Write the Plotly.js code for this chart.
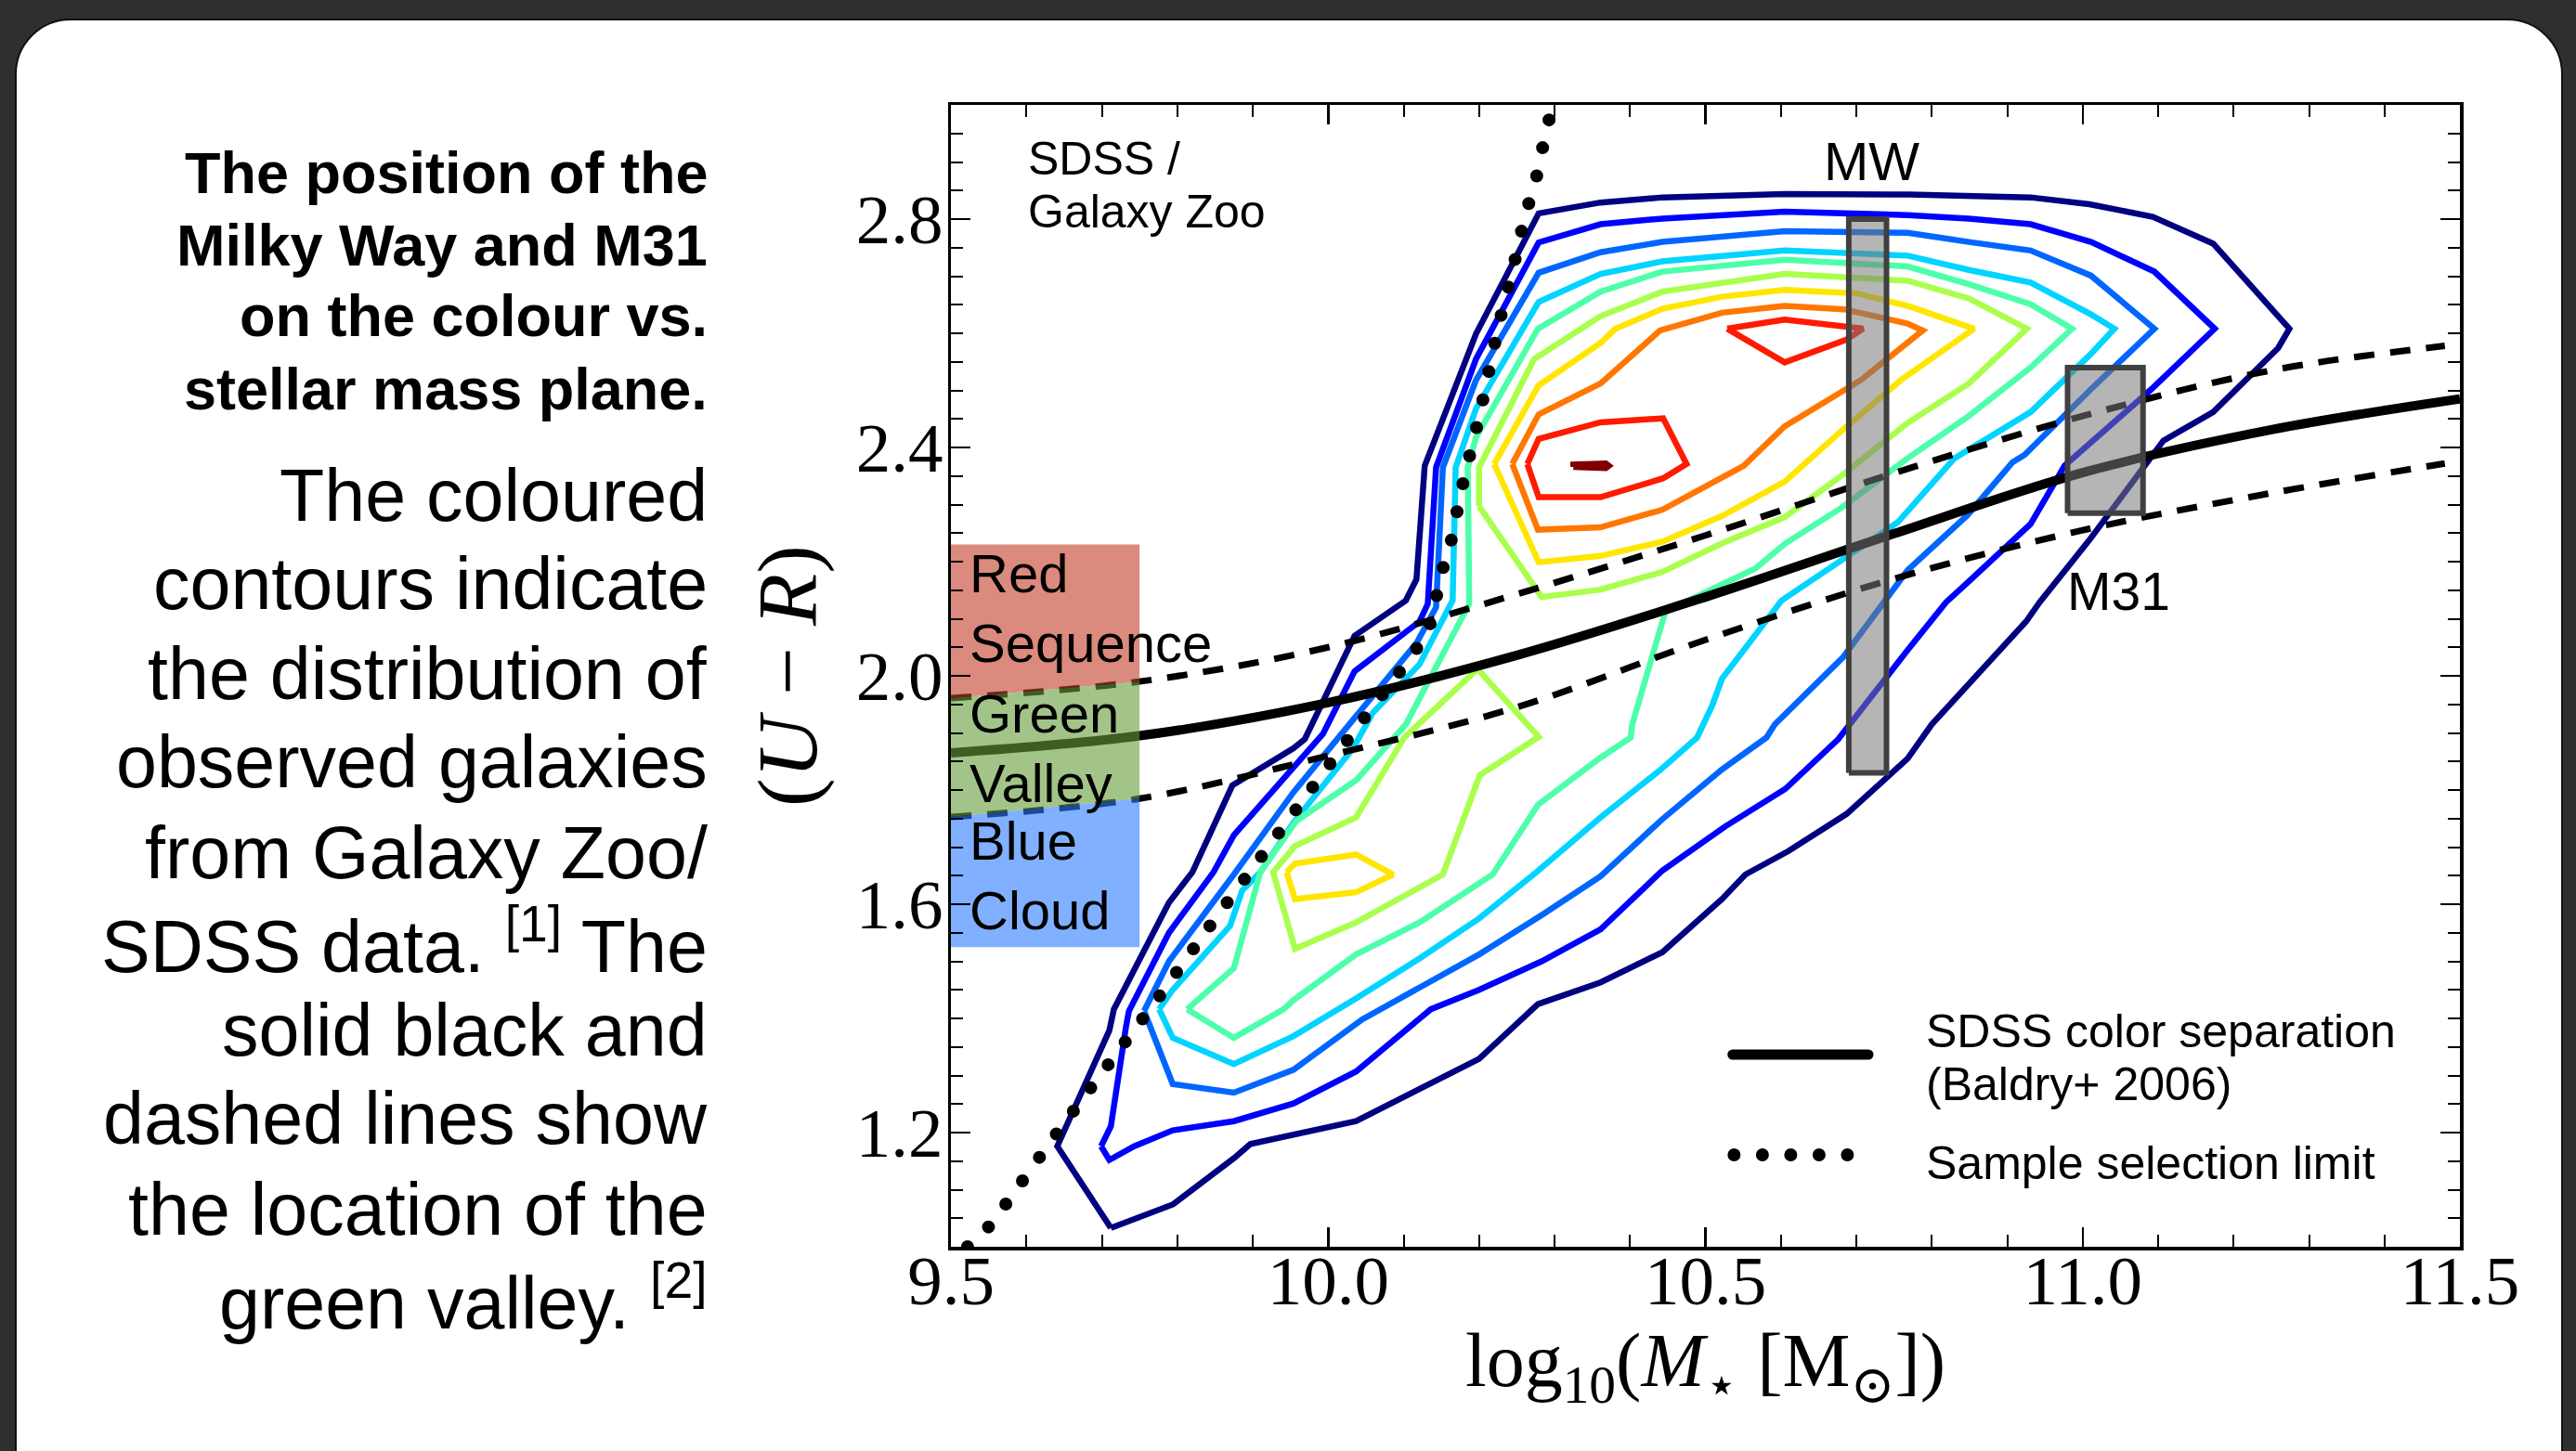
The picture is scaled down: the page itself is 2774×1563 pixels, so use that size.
<!DOCTYPE html>
<html><head><meta charset="utf-8">
<script src="https://cdn.plot.ly/plotly-3.0.1.min.js"></script>
<style>
html,body{margin:0;padding:0;width:2774px;height:1563px;overflow:hidden;background:#2f2f2f;}
#card{position:absolute;left:16px;top:20px;width:2740px;height:1700px;background:#fff;border:2px solid #111;border-radius:60px;}
#chart{position:absolute;left:0;top:0;width:2774px;height:1563px;}
.shapelayer path{stroke-linecap:round;}
.traceselLimit .js-line{stroke-linecap:round;}
</style></head>
<body><div id="card"></div><div id="chart"></div>
<script>
// ---------------- data ----------------
const massRange = [9.5, 11.5];
const colourRange = [1.0, 3.0];
const xTickVals = [9.5, 10.0, 10.5, 11.0, 11.5];
const xTickText = ['9.5', '10.0', '10.5', '11.0', '11.5'];
const yTickVals = [1.2, 1.6, 2.0, 2.4, 2.8];
const yTickText = ['1.2', '1.6', '2.0', '2.4', '2.8'];

const levelColors = ['#000080', '#0000ff', '#0066ff', '#00d4ff', '#4dffaa', '#aaff4d', '#ffe600', '#ff7700', '#ff1a00', '#800000'];

// contour level 1 (navy)
const c1X = [9.712, 9.641, 9.710, 9.716, 9.789, 9.820, 9.873, 9.954, 9.969, 9.991, 10.035, 10.103, 10.117, 10.128, 10.196, 10.279, 10.361, 10.443, 10.605, 10.770, 10.931, 11.009, 11.093, 11.173, 11.251, 11.274, 11.259, 11.173, 11.107, 11.009, 10.943, 10.925, 10.800, 10.768, 10.687, 10.610, 10.553, 10.522, 10.443, 10.361, 10.278, 10.200, 10.037, 9.897, 9.875, 9.794, 9.712];
const c1Y = [1.033, 1.176, 1.379, 1.416, 1.603, 1.656, 1.808, 1.873, 1.889, 1.948, 2.070, 2.132, 2.169, 2.368, 2.599, 2.810, 2.829, 2.838, 2.844, 2.843, 2.838, 2.826, 2.804, 2.757, 2.642, 2.608, 2.574, 2.462, 2.412, 2.238, 2.129, 2.095, 1.915, 1.855, 1.758, 1.693, 1.652, 1.609, 1.516, 1.463, 1.425, 1.329, 1.220, 1.180, 1.155, 1.074, 1.033];
// level 2 (blue)
const c2X = [9.699, 9.712, 9.732, 9.736, 9.789, 9.848, 9.875, 9.954, 9.993, 10.035, 10.121, 10.132, 10.143, 10.196, 10.279, 10.361, 10.443, 10.605, 10.768, 10.849, 10.931, 11.011, 11.095, 11.175, 11.091, 10.976, 10.931, 10.847, 10.819, 10.768, 10.676, 10.606, 10.526, 10.443, 10.361, 10.283, 10.200, 10.136, 10.037, 9.954, 9.875, 9.794, 9.743, 9.710, 9.699];
const c2Y = [1.176, 1.211, 1.385, 1.413, 1.550, 1.656, 1.721, 1.842, 1.898, 2.008, 2.095, 2.126, 2.365, 2.555, 2.759, 2.791, 2.801, 2.813, 2.807, 2.801, 2.791, 2.760, 2.708, 2.608, 2.502, 2.368, 2.266, 2.163, 2.129, 2.045, 1.889, 1.802, 1.736, 1.659, 1.556, 1.500, 1.450, 1.416, 1.307, 1.251, 1.220, 1.204, 1.176, 1.152, 1.176];
// level 3
const c3X = [9.756, 9.789, 9.875, 9.954, 10.033, 10.117, 10.143, 10.152, 10.196, 10.279, 10.361, 10.443, 10.605, 10.768, 10.849, 10.931, 11.011, 11.095, 11.011, 10.923, 10.907, 10.847, 10.768, 10.682, 10.592, 10.581, 10.522, 10.443, 10.361, 10.283, 10.200, 10.136, 10.045, 9.954, 9.875, 9.794, 9.756];
const c3Y = [1.413, 1.500, 1.652, 1.796, 1.923, 2.057, 2.120, 2.365, 2.518, 2.706, 2.742, 2.760, 2.779, 2.776, 2.760, 2.745, 2.701, 2.608, 2.502, 2.387, 2.374, 2.281, 2.185, 2.032, 1.915, 1.892, 1.836, 1.749, 1.649, 1.581, 1.512, 1.465, 1.398, 1.310, 1.270, 1.285, 1.413];
// level 4
const c4X = [9.776, 9.794, 9.870, 9.886, 9.910, 9.954, 10.033, 10.059, 10.121, 10.165, 10.169, 10.196, 10.279, 10.361, 10.443, 10.605, 10.768, 10.849, 10.931, 11.011, 11.042, 11.011, 10.931, 10.830, 10.755, 10.601, 10.522, 10.509, 10.489, 10.441, 10.361, 10.276, 10.200, 10.121, 10.037, 9.954, 9.875, 9.794, 9.776];
const c4Y = [1.416, 1.450, 1.562, 1.624, 1.656, 1.743, 1.873, 1.935, 2.020, 2.132, 2.365, 2.468, 2.655, 2.704, 2.726, 2.745, 2.736, 2.711, 2.689, 2.633, 2.608, 2.564, 2.462, 2.381, 2.269, 2.132, 1.995, 1.948, 1.892, 1.836, 1.752, 1.656, 1.575, 1.505, 1.435, 1.369, 1.320, 1.366, 1.416];
// level 5
const c5X = [9.813, 9.875, 9.910, 9.958, 10.037, 10.103, 10.130, 10.187, 10.185, 10.196, 10.278, 10.361, 10.443, 10.605, 10.768, 10.849, 10.931, 10.986, 10.931, 10.849, 10.768, 10.680, 10.606, 10.566, 10.447, 10.403, 10.401, 10.359, 10.278, 10.218, 10.121, 10.037, 9.954, 9.941, 9.875, 9.813];
const c5Y = [1.416, 1.488, 1.656, 1.746, 1.817, 1.915, 1.983, 2.126, 2.365, 2.418, 2.608, 2.673, 2.708, 2.729, 2.717, 2.686, 2.651, 2.608, 2.540, 2.455, 2.381, 2.294, 2.232, 2.188, 2.113, 1.915, 1.892, 1.855, 1.774, 1.652, 1.568, 1.512, 1.432, 1.416, 1.366, 1.416];
// level 6 (two parts)
const c6aX = [10.200, 10.200, 10.273, 10.361, 10.443, 10.605, 10.768, 10.849, 10.926, 10.849, 10.768, 10.680, 10.605, 10.522, 10.443, 10.361, 10.283, 10.200];
const c6aY = [2.297, 2.365, 2.555, 2.630, 2.673, 2.704, 2.692, 2.661, 2.608, 2.512, 2.443, 2.350, 2.278, 2.232, 2.182, 2.151, 2.138, 2.297];
const c6bX = [10.198, 10.279, 10.201, 10.152, 10.037, 9.956, 9.927, 9.956, 10.037, 10.101, 10.198];
const c6bY = [2.012, 1.893, 1.826, 1.652, 1.568, 1.522, 1.656, 1.702, 1.752, 1.892, 2.012];
// level 7 (two parts)
const c7aX = [10.220, 10.279, 10.361, 10.381, 10.443, 10.522, 10.605, 10.700, 10.768, 10.856, 10.759, 10.682, 10.605, 10.522, 10.443, 10.361, 10.279, 10.220];
const c7aY = [2.371, 2.509, 2.583, 2.608, 2.643, 2.664, 2.676, 2.670, 2.648, 2.608, 2.518, 2.431, 2.340, 2.280, 2.235, 2.210, 2.199, 2.371];
const c7bX = [9.945, 9.956, 10.037, 10.086, 10.037, 9.956, 9.945];
const c7bY = [1.656, 1.609, 1.621, 1.652, 1.687, 1.671, 1.656];
// level 8
const c8X = [10.244, 10.279, 10.361, 10.440, 10.522, 10.605, 10.684, 10.768, 10.788, 10.706, 10.605, 10.551, 10.443, 10.361, 10.278, 10.244];
const c8Y = [2.371, 2.458, 2.512, 2.605, 2.636, 2.648, 2.642, 2.617, 2.605, 2.518, 2.437, 2.368, 2.291, 2.260, 2.256, 2.371];
// level 9 (two parts)
const c9aX = [10.264, 10.279, 10.361, 10.444, 10.475, 10.444, 10.361, 10.279, 10.264];
const c9aY = [2.371, 2.415, 2.444, 2.451, 2.371, 2.346, 2.313, 2.313, 2.371];
const c9bX = [10.529, 10.605, 10.709, 10.687, 10.605, 10.529];
const c9bY = [2.608, 2.624, 2.608, 2.589, 2.549, 2.608];
// level 10
const c10X = [10.325, 10.368, 10.372, 10.368, 10.325, 10.325];
const c10Y = [2.366, 2.364, 2.368, 2.372, 2.370, 2.366];

// SDSS colour separation (Baldry+ 2006) and green-valley limits
const sepX = [9.5, 9.75, 10.0, 10.25, 10.5, 10.75, 11.0, 11.25, 11.5];
const sepY = [1.865, 1.895, 1.953, 2.036, 2.138, 2.249, 2.356, 2.431, 2.485];
const gvUpperX = [9.5, 9.75, 10.0, 10.25, 10.5, 10.75, 11.0, 11.25, 11.48];
const gvUpperY = [1.961, 1.990, 2.050, 2.143, 2.246, 2.355, 2.455, 2.535, 2.578];
const gvLowerX = [9.5, 9.75, 10.0, 10.25, 10.5, 10.75, 11.0, 11.25, 11.48];
const gvLowerY = [1.753, 1.785, 1.860, 1.945, 2.063, 2.170, 2.255, 2.320, 2.372];

// sample selection limit
const selX = [9.522, 9.550, 9.594, 9.640, 9.730, 9.776, 9.840, 9.910, 9.976, 10.046, 10.088, 10.132, 10.150, 10.161, 10.176, 10.185, 10.202, 10.226, 10.244, 10.262, 10.273, 10.281, 10.288, 10.299];
const selY = [1.000, 1.035, 1.114, 1.198, 1.357, 1.438, 1.556, 1.681, 1.799, 1.923, 1.995, 2.079, 2.179, 2.225, 2.322, 2.372, 2.465, 2.614, 2.708, 2.810, 2.858, 2.901, 2.952, 3.000];

// region bands (x extent, top of red sequence, bottom of blue cloud)
const bandX = [9.5, 9.75];
const redTop = 2.230;
const blueBottom = 1.525;

// galaxies: Milky Way and M31 (mass range, colour range)
const mwMass = [10.69, 10.74];
const mwColour = [1.83, 2.80];
const m31Mass = [10.98, 11.08];
const m31Colour = [2.285, 2.54];

// text
const headingLines = ['The position of the', 'Milky Way and M31', 'on the colour vs.', 'stellar mass plane.'];
const bodyLines = ['The coloured', 'contours indicate', 'the distribution of', 'observed galaxies', 'from Galaxy Zoo/', 'SDSS data. <sup>[1]</sup> The', 'solid black and', 'dashed lines show', 'the location of the', 'green valley. <sup>[2]</sup>'];
const legendLabels = ['SDSS color separation', '(Baldry+ 2006)', 'Sample selection limit'];
const bandLabels = ['Red<br>Sequence', 'Green<br>Valley', 'Blue<br>Cloud'];

// ---------------- traces ----------------
const SANS = 'Liberation Sans, Arial, Helvetica, sans-serif';
const SERIF = 'Liberation Serif, DejaVu Serif, serif';
const traces = [];
function contour(x, y, level) {
  traces.push({type: 'scatter', mode: 'lines', x: x, y: y, line: {color: levelColors[level], width: 6.5},
    hoverinfo: 'skip', showlegend: false});
}
contour(c1X, c1Y, 0);
contour(c2X, c2Y, 1);
contour(c3X, c3Y, 2);
contour(c4X, c4Y, 3);
contour(c5X, c5Y, 4);
contour(c6aX, c6aY, 5);
contour(c6bX, c6bY, 5);
contour(c7aX, c7aY, 6);
contour(c7bX, c7bY, 6);
contour(c8X, c8Y, 7);
contour(c9aX, c9aY, 8);
contour(c9bX, c9bY, 8);
contour(c10X, c10Y, 9);

traces.push({type: 'scatter', mode: 'lines', x: gvUpperX, y: gvUpperY, line: {color: '#000', width: 7, dash: '22px,17px', shape: 'spline', smoothing: 1}, hoverinfo: 'skip', showlegend: false});
traces.push({type: 'scatter', mode: 'lines', x: gvLowerX, y: gvLowerY, line: {color: '#000', width: 7, dash: '22px,17px', shape: 'spline', smoothing: 1}, hoverinfo: 'skip', showlegend: false});
traces.push({type: 'scatter', mode: 'lines', x: sepX, y: sepY, line: {color: '#000', width: 10, shape: 'spline', smoothing: 1}, hoverinfo: 'skip', showlegend: false, name: legendLabels[0]});
const selIndex = traces.length;
traces.push({type: 'scatter', mode: 'lines', uid: 'selLimit', x: selX, y: selY, line: {color: '#000', width: 14, dash: '0px,31px', shape: 'spline', smoothing: 0.6}, hoverinfo: 'skip', showlegend: false, name: legendLabels[2]});

// translucent bands on top of the lines
function band(yTop0, yTop1, yBot1, yBot0, color) {
  traces.push({type: 'scatter', mode: 'lines', x: [bandX[0], bandX[1], bandX[1], bandX[0], bandX[0]],
    y: [yTop0, yTop1, yBot1, yBot0, yTop0], fill: 'toself', fillcolor: color, line: {width: 0, color: 'rgba(0,0,0,0)'},
    hoverinfo: 'skip', showlegend: false});
}
band(redTop, redTop, gvUpperY[1], gvUpperY[0], 'rgba(195,60,40,0.6)');
band(gvUpperY[0], gvUpperY[1], gvLowerY[1], gvLowerY[0], 'rgba(102,157,58,0.6)');
band(gvLowerY[0], gvLowerY[1], blueBottom, blueBottom, 'rgba(43,123,255,0.6)');

function box(mx, cy) {
  traces.push({type: 'scatter', mode: 'lines', x: [mx[0], mx[1], mx[1], mx[0], mx[0]], y: [cy[0], cy[0], cy[1], cy[1], cy[0]],
    fill: 'toself', fillcolor: 'rgba(120,120,120,0.55)', line: {color: '#404040', width: 6},
    hoverinfo: 'skip', showlegend: false});
}
box(mwMass, mwColour);
box(m31Mass, m31Colour);

// ---------------- annotations ----------------
const ann = [];
const textRight = -0.1597;
const headY = [0.9407, 0.8772, 0.8154, 0.7512];
headingLines.forEach((t, i) => ann.push({xref: 'paper', yref: 'paper', x: textRight, y: headY[i], xanchor: 'right', yanchor: 'middle',
  text: '<b>' + t + '</b>', showarrow: false, font: {family: SANS, size: 63, color: '#000'}}));
const bodyY = [0.6585, 0.5813, 0.5024, 0.4244, 0.3455, 0.2675, 0.1902, 0.1122, 0.0333, -0.0447];
bodyLines.forEach((t, i) => ann.push({xref: 'paper', yref: 'paper', x: textRight, y: bodyY[i], xanchor: 'right', yanchor: 'middle',
  text: t, showarrow: false, font: {family: SANS, size: 79, color: '#000'}}));

function dataText(x, y, t, size, anchor) {
  ann.push({xref: 'x', yref: 'y', x: x, y: y, text: t, showarrow: false, xanchor: anchor || 'left', yanchor: 'middle', align: 'left',
    font: {family: SANS, size: size, color: '#000'}});
}
dataText(9.600, 2.905, 'SDSS /', 50);
dataText(9.600, 2.813, 'Galaxy Zoo', 50);
dataText(10.720, 2.902, 'MW', 58, 'center');
dataText(10.977, 2.148, 'M31', 57);
const bandLabelY = [2.119, 1.873, 1.651];
bandLabels.forEach((t, i) => dataText(9.522, bandLabelY[i], t, 58));

const legY = [0.1886, 0.1423, 0.0732];
legendLabels.forEach((t, i) => ann.push({xref: 'paper', yref: 'paper', x: 0.645, y: legY[i], xanchor: 'left', yanchor: 'middle',
  text: t, showarrow: false, font: {family: SANS, size: 50, color: '#000'}}));

const shapes = [
  {type: 'line', xref: 'paper', yref: 'paper', x0: 0.518, x1: 0.608, y0: 0.1683, y1: 0.1683, line: {color: '#000', width: 11}},
  {type: 'line', xref: 'paper', yref: 'paper', x0: 0.519, x1: 0.597, y0: 0.0805, y1: 0.0805, line: {color: '#000', width: 14, dash: '0px,30.5px'}}
];

const axisCommon = {
  showgrid: false, zeroline: false, showline: true, linecolor: '#000', linewidth: 3.5, mirror: 'allticks',
  ticks: 'inside', ticklen: 21, tickwidth: 2.5, tickcolor: '#000',
  tickfont: {family: SERIF, size: 75, color: '#000'}
};

const layout = {
  width: 2774, height: 1563,
  margin: {l: 1024, r: 125, t: 113, b: 220},
  paper_bgcolor: 'rgba(0,0,0,0)', plot_bgcolor: 'rgba(0,0,0,0)',
  showlegend: false, hovermode: false,
  xaxis: Object.assign({}, axisCommon, {
    range: massRange, tickmode: 'array', tickvals: xTickVals, ticktext: xTickText, ticklabelstandoff: -32,
    minor: {dtick: 0.1, tick0: 9.5, ticks: 'inside', ticklen: 13, tickwidth: 2, tickcolor: '#000', showgrid: false},
    title: {text: 'log<sub>10</sub>(<i>M</i><sub>⋆</sub> [M<sub>⊙</sub>])', font: {family: SERIF, size: 82, color: '#000'}, standoff: 14}
  }),
  yaxis: Object.assign({}, axisCommon, {
    range: colourRange, tickmode: 'array', tickvals: yTickVals, ticktext: yTickText, ticklabelstandoff: -10,
    minor: {dtick: 0.05, tick0: 1.0, ticks: 'inside', ticklen: 13, tickwidth: 2, tickcolor: '#000', showgrid: false},
    title: {text: '(<i>U</i> − <i>R</i>)', font: {family: SERIF, size: 92, color: '#000'}, standoff: 12}
  }),
  annotations: ann,
  shapes: shapes
};

Plotly.newPlot('chart', traces, layout, {staticPlot: true, displayModeBar: false}).then(() => {
  const tr = document.querySelectorAll('#chart .scatterlayer .trace');
  if (tr[selIndex]) {
    const p = tr[selIndex].querySelector('.js-line');
    if (p) p.style.strokeLinecap = 'round';
  }
  document.querySelectorAll('#chart .shapelayer path').forEach(p => p.style.strokeLinecap = 'round');
});
</script></body></html>
